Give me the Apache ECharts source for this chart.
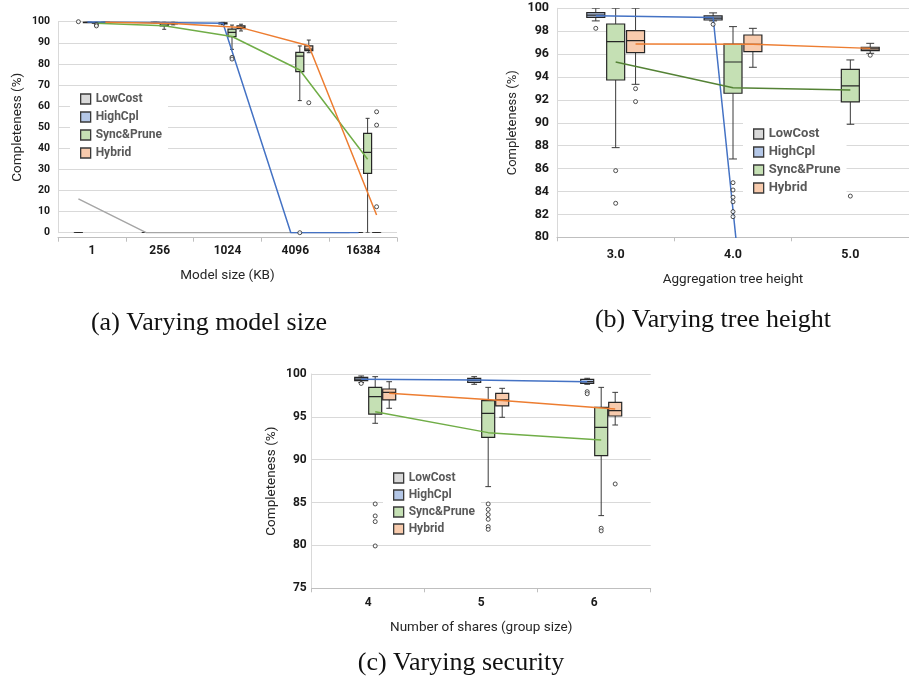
<!DOCTYPE html>
<html>
<head>
<meta charset="utf-8">
<script src="https://cdn.jsdelivr.net/npm/echarts@6/dist/echarts.min.js"></script>
<style>
  html, body { margin: 0; background: #fff; }
  #chart { width: 909px; height: 686px; }
</style>
</head>
<body>
<div id="chart"></div>
<script>
const seriesNames = ['LowCost', 'HighCpl', 'Sync&Prune', 'Hybrid'];
const boxFill = ['#d9d9d9', '#b4c7e7', '#c5e0b4', '#f8cbad'];

// (a) varying model size -- box stats are [min, Q1, median, Q3, max]
const catsA = ['1', '256', '1024', '4096', '16384'];
const aLowCostBox = [[0, 0, 0, 0, 0], [0, 0, 0, 0, 0], [0, 0, 0, 0, 0], [0, 0, 0, 0, 0], [0, 0, 0, 0, 0]];
const aHighCplBox = [[99.6, 99.8, 99.9, 100, 100], [99.4, 99.6, 99.8, 100, 100], [98.6, 98.9, 99.2, 99.5, 99.8], [0, 0, 0, 0, 0], [0, 0, 0, 0, 0]];
const aSyncBox = [[99, 99.3, 99.6, 99.8, 100], [96.4, 98, 99, 99.8, 100], [86.9, 92.9, 94.9, 96.5, 98.4], [62.6, 76.3, 83.7, 85.5, 88.5], [0, 28.1, 38.1, 47.1, 54.2]];
const aHybridBox = [[99.5, 99.7, 99.9, 100, 100], [98.5, 99, 99.4, 99.8, 100], [95.6, 96.7, 97.3, 98, 98.8], [85.3, 86.3, 87, 88.5, 91.3], [0, 0, 0, 0, 0]];
const aLowCostMean = [16, 0, 0, 0, 0];
const aHighCplMean = [99.8, 99.6, 99.3, 0, 0];
const aSyncMean = [99.3, 98.1, 93.0, 77.1, 34.8];
const aHybridMean = [99.7, 99.2, 97.2, 88.6, 8.4];
// outliers: [category index, value]
const aLowCostOut = [[0, 100]];
const aHighCplOut = [];
const aSyncOut = [[0, 98.6], [0, 98.0], [2, 83.1], [2, 82.3], [3, 0]];
const aHybridOut = [[3, 61.6], [4, 57.3], [4, 51.0], [4, 12.3]];

// (b) varying tree height
const catsB = ['3.0', '4.0', '5.0'];
const bLowCostBox = [];
const bHighCplBox = [[98.9, 99.2, 99.4, 99.62, 100], [98.9, 98.98, 99.15, 99.33, 99.6], [0, 0, 0, 0, 0]];
const bSyncBox = [[87.83, 93.74, 97.09, 98.63, 100], [86.84, 92.58, 95.31, 96.88, 98.4], [89.87, 91.82, 93.22, 94.67, 95.49]];
const bHybridBox = [[93.36, 96.13, 97.18, 98.05, 100], [94.85, 96.22, 96.86, 97.67, 98.25], [96.07, 96.3, 96.45, 96.6, 96.94]];
const bLowCostMean = [];
const bHighCplMean = [99.35, 99.2, 0];
const bSyncMean = [95.31, 93.07, 92.87];
const bHybridMean = [96.88, 96.85, 96.5];
const bLowCostOut = [];
const bHighCplOut = [[0, 98.25], [1, 98.6]];
const bSyncOut = [[0, 85.82], [0, 82.97], [1, 84.77], [1, 84.13], [1, 83.5], [1, 83.1], [1, 82.24], [1, 81.8], [2, 83.6]];
const bHybridOut = [[0, 92.98], [0, 91.85], [2, 95.9]];

// (c) varying security
const catsC = ['4', '5', '6'];
const cLowCostBox = [];
const cHighCplBox = [[99.0, 99.22, 99.4, 99.61, 99.77], [98.8, 99.03, 99.25, 99.5, 99.69], [98.8, 98.91, 99.1, 99.38, 99.5]];
const cSyncBox = [[94.25, 95.33, 97.36, 98.44, 99.69], [86.86, 92.61, 95.41, 96.89, 98.44], [83.48, 90.47, 93.78, 96.11, 98.44]];
const cHybridBox = [[96.0, 96.97, 97.86, 98.25, 99.1], [94.95, 96.27, 96.97, 97.74, 98.33], [94.05, 95.1, 95.72, 96.7, 97.86]];
const cLowCostMean = [];
const cHighCplMean = [99.38, 99.3, 99.1];
const cSyncMean = [95.6, 93.16, 92.3];
const cHybridMean = [97.74, 96.9, 95.92];
const cLowCostOut = [];
const cHighCplOut = [[0, 98.9], [2, 97.94], [2, 97.7]];
const cSyncOut = [[0, 84.84], [0, 83.44], [0, 82.78], [0, 79.94], [1, 84.84], [1, 84.2], [1, 83.6], [1, 83.05], [1, 82.2], [1, 81.88], [2, 82.0], [2, 81.7]];
const cHybridOut = [[2, 87.17]];

/** per-panel layout */
const panels = [
  {
    cats: catsA,
    boxes: [aLowCostBox, aHighCplBox, aSyncBox, aHybridBox],
    means: [aLowCostMean, aHighCplMean, aSyncMean, aHybridMean],
    outs: [aLowCostOut, aHighCplOut, aSyncOut, aHybridOut],
    lineColors: ['#a6a6a6', '#4472c4', '#70ad47', '#ed7d31'],
    grid: { left: 58, top: 21.7, width: 339, height: 211 },
    y: [0, 100, 10], yFont: 10.5, xFont: 12, yNameFont: 13.5,
    slotPx: 9, boxPx: 8, slotCenter: 1.5, xOffset: 5,
    xName: 'Model size (KB)', xNameGap: 31, yNameGap: 33, yMargin: 8, xMargin: 7,
    legend: { left: 70, top: 86, font: 12, gap: 4 },
    caption: { text: '(a) Varying model size', x: 204, y: 305 },
  },
  {
    cats: catsB,
    boxes: [bLowCostBox, bHighCplBox, bSyncBox, bHybridBox],
    means: [bLowCostMean, bHighCplMean, bSyncMean, bHybridMean],
    outs: [bLowCostOut, bHighCplOut, bSyncOut, bHybridOut],
    lineColors: ['#a6a6a6', '#4472c4', '#548235', '#ed7d31'],
    grid: { left: 557, top: 8.3, width: 354, height: 229 },
    y: [80, 100, 2], yFont: 12.5, xFont: 12.5, yNameFont: 13,
    slotPx: 20, boxPx: 18, slotCenter: 2, xOffset: 0,
    xName: 'Aggregation tree height', xNameGap: 35, yNameGap: 37.5, yMargin: 8, xMargin: 11,
    legend: { left: 743, top: 121, font: 13, gap: 4 },
    caption: { text: '(b) Varying tree height', x: 708, y: 302 },
  },
  {
    cats: catsC,
    boxes: [cLowCostBox, cHighCplBox, cSyncBox, cHybridBox],
    means: [cLowCostMean, cHighCplMean, cSyncMean, cHybridMean],
    outs: [cLowCostOut, cHighCplOut, cSyncOut, cHybridOut],
    lineColors: ['#a6a6a6', '#4472c4', '#70ad47', '#ed7d31'],
    grid: { left: 311.7, top: 374, width: 339, height: 214.3 },
    y: [75, 100, 5], yFont: 12, xFont: 12, yNameFont: 13.5,
    slotPx: 14, boxPx: 13, slotCenter: 1.5, xOffset: 0,
    xName: 'Number of shares (group size)', xNameGap: 32, yNameGap: 33, yMargin: 5, xMargin: 9,
    legend: { left: 383, top: 465, font: 12, gap: 3 },
    caption: { text: '(c) Varying security', x: 456, y: 645 },
  },
];

const fontFamily = 'Roboto, "Noto Sans", sans-serif';

/** draw one box with whiskers */
const boxRenderer = (boxPx, fill) => (params, api) => {
  const x = api.value(0);
  const lo = api.coord([x, api.value(1)]);
  const q1 = api.coord([x, api.value(2)]);
  const md = api.coord([x, api.value(3)]);
  const q3 = api.coord([x, api.value(4)]);
  const hi = api.coord([x, api.value(5)]);
  const cx = lo[0];
  const half = boxPx / 2;
  const cap = Math.max(2, boxPx * 0.22);
  const whisker = { stroke: '#3a3a3a', lineWidth: 1 };
  return {
    type: 'group',
    children: [
      { type: 'line', shape: { x1: cx, y1: hi[1], x2: cx, y2: q3[1] }, style: whisker },
      { type: 'line', shape: { x1: cx, y1: q1[1], x2: cx, y2: lo[1] }, style: whisker },
      { type: 'line', shape: { x1: cx - cap, y1: hi[1], x2: cx + cap, y2: hi[1] }, style: whisker },
      { type: 'line', shape: { x1: cx - cap, y1: lo[1], x2: cx + cap, y2: lo[1] }, style: whisker },
      {
        type: 'rect',
        shape: { x: cx - half, y: q3[1], width: boxPx, height: Math.max(q1[1] - q3[1], 1) },
        style: { fill, stroke: '#262626', lineWidth: 1.2 },
      },
      { type: 'line', shape: { x1: cx - half, y1: md[1], x2: cx + half, y2: md[1] }, style: { stroke: '#262626', lineWidth: 1.2 } },
    ],
  };
};

const grid = [], xAxis = [], yAxis = [], series = [], legend = [], title = [];

panels.forEach((p, i) => {
  const n = p.cats.length;
  const band = p.grid.width / n;
  const slotX = (k) => ((k - p.slotCenter) * p.slotPx) / band;

  grid.push({ ...p.grid });

  // visible category axis for labels
  xAxis.push({
    type: 'category',
    gridIndex: i,
    data: p.cats,
    offset: p.xOffset,
    boundaryGap: true,
    axisLine: { onZero: false, lineStyle: { color: '#bfbfbf' } },
    axisTick: { show: true, length: 4, lineStyle: { color: '#bfbfbf' } },
    axisLabel: { color: '#1a1a1a', fontWeight: 'bold', fontSize: p.xFont, fontFamily, margin: p.xMargin },
    name: p.xName,
    nameLocation: 'middle',
    nameGap: p.xNameGap,
    nameTextStyle: { color: '#262626', fontSize: 13.5, fontFamily },
  });
  // hidden value axis carrying the dodged marks
  xAxis.push({ type: 'value', gridIndex: i, min: -0.5, max: n - 0.5, show: false });

  yAxis.push({
    type: 'value',
    gridIndex: i,
    min: p.y[0],
    max: p.y[1],
    interval: p.y[2],
    axisLine: { show: true, onZero: false, lineStyle: { color: '#d9d9d9' } },
    axisTick: { show: false },
    splitLine: { lineStyle: { color: '#d9d9d9' } },
    axisLabel: { color: '#1a1a1a', fontWeight: 'bold', fontSize: p.yFont, fontFamily, margin: p.yMargin },
    name: 'Completeness (%)',
    nameLocation: 'middle',
    nameGap: p.yNameGap,
    nameTextStyle: { color: '#262626', fontSize: p.yNameFont, fontFamily },
  });

  seriesNames.forEach((name, k) => {
    series.push({
      type: 'custom',
      name,
      xAxisIndex: 2 * i + 1,
      yAxisIndex: i,
      clip: true,
      z: 2,
      itemStyle: { color: boxFill[k] },
      renderItem: boxRenderer(p.boxPx, boxFill[k]),
      encode: { x: 0, y: [1, 2, 3, 4, 5] },
      data: p.boxes[k].map((b, c) => [c + slotX(k), ...b]),
    });
    series.push({
      type: 'line',
      name: name + ' mean',
      xAxisIndex: 2 * i + 1,
      yAxisIndex: i,
      showSymbol: false,
      z: 4,
      lineStyle: { color: p.lineColors[k], width: 1.5 },
      data: p.means[k].map((m, c) => [c + slotX(k), m]),
    });
    series.push({
      type: 'scatter',
      name: name + ' outliers',
      xAxisIndex: 2 * i + 1,
      yAxisIndex: i,
      symbol: 'circle',
      symbolSize: 4,
      z: 5,
      itemStyle: { color: '#fff', borderColor: '#262626', borderWidth: 1 },
      data: p.outs[k].map(([c, v]) => [c + slotX(k), v]),
    });
  });

  legend.push({
    orient: 'vertical',
    left: p.legend.left,
    top: p.legend.top,
    padding: [6, 6, 6, 10],
    backgroundColor: '#fff',
    itemWidth: 10,
    itemHeight: 10,
    itemGap: p.legend.gap,
    icon: 'rect',
    selectedMode: false,
    textStyle: { color: '#595959', fontWeight: 'bold', fontSize: p.legend.font, fontFamily, lineHeight: 14 },
    data: seriesNames.map((name, k) => ({
      name,
      itemStyle: { color: boxFill[k], borderColor: '#3a3a3a', borderWidth: 1.3 },
    })),
  });

  title.push({
    text: p.caption.text,
    left: p.caption.x,
    top: p.caption.y,
    textAlign: 'center',
    textStyle: { fontFamily: '"Liberation Serif", serif', fontWeight: 'normal', fontSize: 26, color: '#111' },
  });
});

const chart = echarts.init(document.getElementById('chart'), null, { renderer: 'canvas' });
chart.setOption({
  animation: false,
  backgroundColor: '#fff',
  title,
  grid,
  xAxis,
  yAxis,
  legend,
  series,
});
</script>
</body>
</html>
